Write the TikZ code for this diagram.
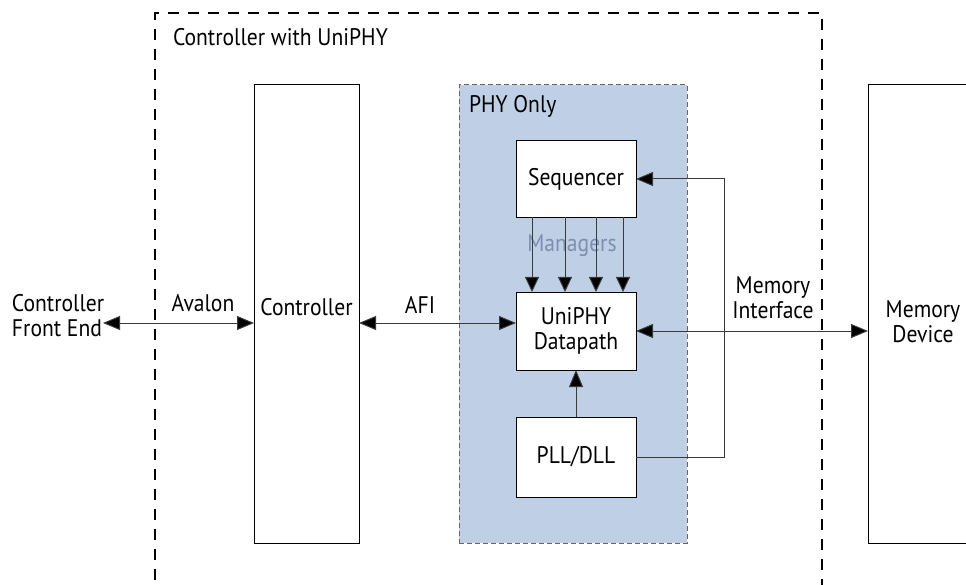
\documentclass[tikz,border=0pt]{standalone}
\usepackage{fontspec}
\setmainfont[FakeStretch=0.9]{PT Sans}
\usetikzlibrary{arrows.meta}
\definecolor{phyfill}{HTML}{BFD0E6}
\definecolor{mgrtext}{HTML}{7F8DAE}
\definecolor{linegray}{HTML}{3A3A3A}
\tikzset{
  blk/.style={draw=black, line width=1pt, fill=white, inner sep=0pt, outer sep=0pt, align=center},
  lbl/.style={inner sep=0pt, outer sep=0pt, align=center, font=\fontsize{24}{25}\selectfont},
  conn/.style={draw=linegray, line width=1pt},
  tip/.style={-{Triangle[length=17pt,width=14pt,fill=black]}},
  dtip/.style={{Triangle[length=17pt,width=14pt,fill=black]}-{Triangle[length=17pt,width=14pt,fill=black]}},
  stip/.style={-{Triangle[length=15pt,width=14pt,fill=black]}},
}
\begin{document}
\begin{tikzpicture}[x=1pt,y=-1pt]
\useasboundingbox (0,0) rectangle (966,585);
\clip (0,0) rectangle (966,585);
% outer dashed frame
\coordinate (oTL) at (155,13);
\coordinate (oTR) at (822,13);
\coordinate (oBL) at (155,600);
\coordinate (oBR) at (822,600);
\draw[line width=1.5pt, dash pattern=on 11pt off 9pt] (oBL) -- (oTL) -- (oTR) -- (oBR);
\node[lbl, anchor=west] (owner) at (173,37) {Controller with UniPHY};
% PHY region
\node[draw=gray!80!black, line width=1pt, dash pattern=on 5pt off 3pt, fill=phyfill, minimum width=228pt, minimum height=458pt, inner sep=0pt, outer sep=0pt] (phy) at (573,314) {};
\node[lbl, anchor=west] (phylbl) at (469,106) {PHY Only};
% blocks
\node[blk, minimum width=105pt, minimum height=458pt] (ctrl) at (306.5,314) {};
\node[lbl] (ctrllbl) at (306.5,307) {Controller};
\node[blk, minimum width=120pt, minimum height=77pt, font=\fontsize{24}{25}\selectfont] (seq) at (576,179) {Sequencer};
\node[blk, minimum width=120pt, minimum height=78pt, font=\fontsize{24}{25}\selectfont] (dp) at (576,331) {UniPHY\\Datapath};
\node[blk, minimum width=120pt, minimum height=80pt, font=\fontsize{24}{25}\selectfont] (pll) at (576,457) {PLL/DLL};
\node[blk, minimum width=130pt, minimum height=458pt] (mem) at (933,314) {};
\node[lbl] (memlbl) at (923,322) {Memory\\Device};
% front end
\node[lbl, align=left, anchor=west] (fe) at (12,316) {Controller\\Front End};
% labels
\node[lbl] (aval) at (203,303) {Avalon};
\node[lbl] (afi) at (420,305) {AFI};
\node[lbl] (mif) at (773,298) {Memory\\Interface};
\node[lbl, text=mgrtext] (mgr) at (572,246) {Managers};
% connectors
\coordinate (feR) at (103,323);
\draw[conn, dtip] (feR) -- (ctrl.west |- feR);
\draw[conn, dtip] (ctrl.east |- feR) -- (dp.west |- feR);
\draw[conn, dtip] (dp.east) -- (mem.west |- dp.east);
\foreach \xx in {532,565,596,623}{
  \draw[conn, stip] (seq.south -| \xx,0) -- (dp.north -| \xx,0);
}
\draw[conn, tip] (pll.north) -- (dp.south);
\coordinate (fbk) at (724,457);
\draw[conn, tip] (pll.east) -- (fbk) |- (seq.east);
\end{tikzpicture}
\end{document}
